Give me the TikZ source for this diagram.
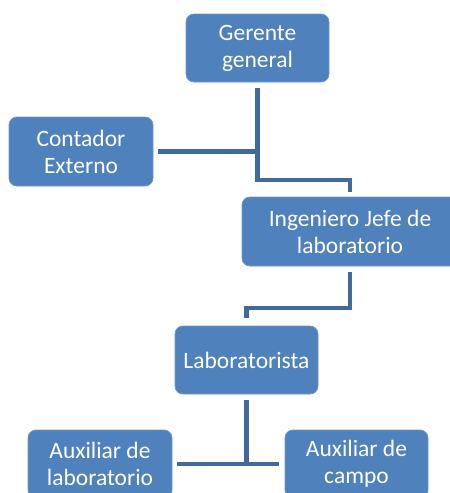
\documentclass[tikz,border=0pt]{standalone}
\usepackage{fontspec}
\setmainfont{Carlito}
\definecolor{cajaazul}{HTML}{4F81BD}
\definecolor{bordeazul}{HTML}{6E96C8}
\definecolor{lineaazul}{HTML}{41699C}
\begin{document}
\begin{tikzpicture}[x=1pt,y=-1pt,
	puesto/.style={rectangle, rounded corners=8pt, fill=cajaazul, draw=bordeazul, line width=0.8pt, text=white, align=center, minimum height=68pt, minimum width=143pt, inner sep=0pt, font=\fontsize{23.5}{27}\selectfont},
	enlace/.style={draw=lineaazul, line width=4.5pt}]
	\useasboundingbox (0,0) rectangle (450,493);

	\node[puesto] (gerente) at (257.5,48) {Gerente\\general};
	\node[puesto, minimum width=144pt, minimum height=69pt] (contador) at (81,151.5) {Contador\\Externo};
	\node[puesto, minimum width=216pt, minimum height=69pt] (ingeniero) at (350,231.5) {Ingeniero Jefe de\\laboratorio};
	\node[puesto] (laboratorista) at (246.5,360) {Laboratorista};
	\node[puesto, minimum width=144pt] (auxlab) at (100,464) {Auxiliar de\\laboratorio};
	\node[puesto] (auxcampo) at (356.5,464) {Auxiliar de\\campo};

	\coordinate (codo1) at (350,180);
	\coordinate (codo2) at (246.5,308);
	\coordinate (codo3) at (246.5,466);

	\draw[enlace, shorten <=6pt, shorten >=5pt] (gerente.south) |- (codo1) -- (ingeniero.north);
	\draw[enlace, shorten <=5pt] (contador.east) -- (contador.east -| gerente.south);
	\draw[enlace, shorten <=6pt, shorten >=8pt] (ingeniero.south) |- (codo2) -- (laboratorista.north);
	\draw[enlace, shorten <=6pt] (laboratorista.south) -- (codo3);
	\draw[enlace, shorten <=5pt, shorten >=6pt] (auxlab.east) -- (auxcampo.west);
\end{tikzpicture}
\end{document}
